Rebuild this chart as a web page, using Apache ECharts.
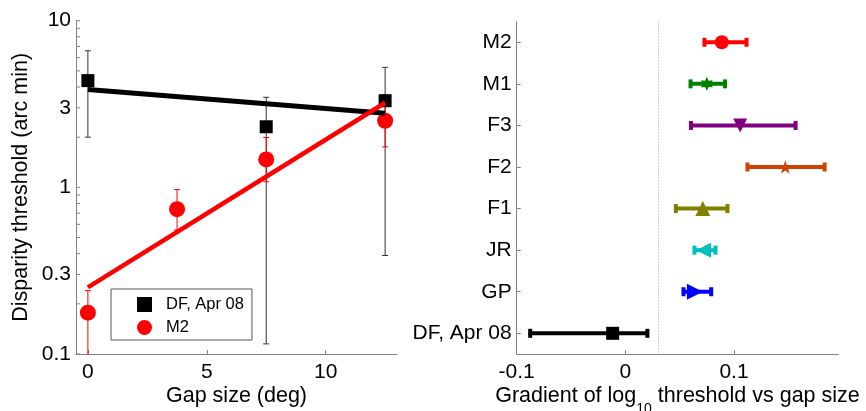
<!DOCTYPE html>
<html>
<head>
<meta charset="utf-8">
<script src="https://cdn.jsdelivr.net/npm/echarts@6/dist/echarts.min.js"></script>
<style>
  html, body { margin: 0; padding: 0; background: #fff; }
  #chart { width: 866px; height: 411px; }
</style>
</head>
<body>
<div id="chart"></div>
<script>
// ---- Left panel: disparity threshold against gap size ----
const dfGap = [0, 7.5, 12.5];
const dfThreshold = [4.37, 2.31, 3.31];
const dfErrLow = [2.0, 0.115, 0.39];
const dfErrHigh = [6.6, 3.47, 5.25];

const m2Gap = [0, 3.75, 7.5, 12.5];
const m2Threshold = [0.177, 0.74, 1.47, 2.51];
const m2ErrLow = [0.09, 0.555, 1.08, 1.75];
const m2ErrHigh = [0.24, 0.97, 1.99, 3.6];

// straight-line fits in log threshold, end points
const fitGap = [0, 12.5];
const dfFit = [3.87, 2.78];
const m2Fit = [0.251, 3.22];

const thresholdLabels = [0.1, 0.3, 1, 3, 10];
const thresholdTicks = [0.1, 0.2, 0.3, 0.4, 0.5, 0.6, 0.7, 0.8, 0.9,
                        1, 2, 3, 4, 5, 6, 7, 8, 9, 10];
const gapLabels = [0, 5, 10];

// ---- Right panel: fitted gradient per observer ----
const subjects = ['M2', 'M1', 'F3', 'F2', 'F1', 'JR', 'GP', 'DF, Apr 08'];
const gradient = [0.0888, 0.075, 0.1057, 0.1472, 0.0713, 0.072, 0.064, -0.0117];
const gradLow  = [0.0728, 0.060, 0.0604, 0.1124, 0.0465, 0.0636, 0.0535, -0.0876];
const gradHigh = [0.1115, 0.0917, 0.1567, 0.1834, 0.094, 0.083, 0.079, 0.0203];
const gradientLabels = [-0.1, 0, 0.1];
const referenceGradient = 0.025;

// marker styling per observer
const subjectColors = ['#ff0000', '#008000', '#800080', '#cc4400', '#808000', '#00bfbf', '#0000ff', '#000000'];
const PENTAGRAM = 'path://M0,-10 L2.245,-3.09 L9.511,-3.09 L3.633,1.18 L5.878,8.09 L0,3.82 L-5.878,8.09 L-3.633,1.18 L-9.511,-3.09 L-2.245,-3.09 Z';
const HEXAGRAM = 'path://M0,-10 L2.5,-4.33 L8.66,-5 L5,0 L8.66,5 L2.5,4.33 L0,10 L-2.5,4.33 L-8.66,5 L-5,0 L-8.66,-5 L-2.5,-4.33 Z';
const subjectSymbols = ['circle', HEXAGRAM, 'triangle', PENTAGRAM, 'triangle', 'triangle', 'triangle', 'rect'];
const subjectRotate = [0, 0, 180, 0, 0, 90, -90, 0];
const subjectSizes = [14, 14, 14, 14, 15, 15, 16, 13];

const FONT = "'Liberation Sans', Arial, Helvetica, sans-serif";
const AXIS_GREY = '#808080';

function vErrorBar(color) {
  return function (params, api) {
    const x = api.value(0);
    const lo = api.coord([x, api.value(1)]);
    const hi = api.coord([x, api.value(2)]);
    const w = 3;
    const style = { stroke: color, lineWidth: 1 };
    return {
      type: 'group',
      children: [
        { type: 'line', shape: { x1: lo[0], y1: lo[1], x2: hi[0], y2: hi[1] }, style },
        { type: 'line', shape: { x1: lo[0] - w, y1: lo[1], x2: lo[0] + w, y2: lo[1] }, style },
        { type: 'line', shape: { x1: hi[0] - w, y1: hi[1], x2: hi[0] + w, y2: hi[1] }, style }
      ]
    };
  };
}

// inward tick marks on the logarithmic threshold axis
function logTick(params, api) {
  const y = api.coord([0, api.value(1)])[1];
  const x0 = params.coordSys.x;
  return {
    type: 'line',
    shape: { x1: x0, y1: y, x2: x0 + 4, y2: y },
    style: { stroke: AXIS_GREY, lineWidth: 1 }
  };
}

function hErrorBar(params, api) {
  const idx = api.value(2);
  const lo = api.coord([api.value(0), idx]);
  const hi = api.coord([api.value(1), idx]);
  const color = subjectColors[idx];
  const capW = 4, capH = 9;
  return {
    type: 'group',
    children: [
      { type: 'line', shape: { x1: lo[0], y1: lo[1], x2: hi[0], y2: hi[1] },
        style: { stroke: color, lineWidth: 4 } },
      { type: 'rect', shape: { x: lo[0] - capW / 2, y: lo[1] - capH / 2, width: capW, height: capH },
        style: { fill: color } },
      { type: 'rect', shape: { x: hi[0] - capW / 2, y: hi[1] - capH / 2, width: capW, height: capH },
        style: { fill: color } }
    ]
  };
}

const axisText = { color: '#000', fontSize: 21, fontFamily: FONT };
const titleText = { color: '#000', fontSize: 21.5, fontFamily: FONT };
const axisLineStyle = { show: true, onZero: false, lineStyle: { color: AXIS_GREY, width: 1 } };

const option = {
  backgroundColor: '#fff',
  animation: false,
  textStyle: { fontFamily: FONT },
  grid: [
    { left: 76, top: 20.7, width: 321, height: 333.3, outerBoundsMode: 'none', containLabel: false },
    { left: 516.7, top: 21.5, width: 321.6, height: 332.6, outerBoundsMode: 'none', containLabel: false }
  ],
  legend: {
    data: [{ name: 'DF, Apr 08', icon: 'rect' }, { name: 'M2', icon: 'circle' }],
    orient: 'vertical',
    left: 111,
    top: 289,
    padding: [7, 8, 4, 26],
    itemGap: 6,
    itemWidth: 15,
    itemHeight: 15,
    borderColor: '#555',
    borderWidth: 1,
    backgroundColor: '#fff',
    textStyle: { fontSize: 16.5, color: '#000', fontFamily: FONT, padding: [0, 0, 0, 9] },
    selectedMode: false
  },
  xAxis: [
    {
      gridIndex: 0, type: 'value', min: -0.5, max: 13,
      name: 'Gap size (deg)', nameLocation: 'middle', nameGap: 31, nameMoveOverlap: false,
      nameTextStyle: titleText,
      axisLine: axisLineStyle,
      axisTick: { show: true, inside: true, length: 4, customValues: gapLabels, lineStyle: { color: AXIS_GREY } },
      axisLabel: Object.assign({ show: true, margin: 8, customValues: gapLabels }, axisText),
      splitLine: { show: false }
    },
    {
      gridIndex: 1, type: 'value', min: -0.1, max: 0.196,
      name: '{a|Gradient of log}{sub|10}{a| threshold vs gap size}',
      nameLocation: 'middle', nameGap: 22, nameMoveOverlap: false,
      nameTextStyle: {
        color: '#000', fontSize: 21.5, fontFamily: FONT,
        rich: {
          a: { fontSize: 21.5, fontFamily: FONT, color: '#000', lineHeight: 40 },
          sub: { fontSize: 14, fontFamily: FONT, color: '#000', lineHeight: 14, verticalAlign: 'bottom' }
        }
      },
      axisLine: axisLineStyle,
      axisTick: { show: true, inside: true, length: 4, customValues: gradientLabels, lineStyle: { color: AXIS_GREY } },
      axisLabel: Object.assign({ show: true, margin: 8, customValues: gradientLabels }, axisText),
      splitLine: { show: false }
    }
  ],
  yAxis: [
    {
      gridIndex: 0, type: 'log', logBase: 10, min: 0.1, max: 10,
      name: 'Disparity threshold (arc min)', nameLocation: 'middle', nameGap: 44, nameMoveOverlap: false,
      nameTextStyle: titleText,
      axisLine: axisLineStyle,
      axisTick: { show: false },
      axisLabel: Object.assign({ show: true, margin: 5, customValues: thresholdLabels, formatter: v => String(v) }, axisText),
      splitLine: { show: false }
    },
    {
      gridIndex: 1, type: 'category', inverse: true, data: subjects,
      axisLine: axisLineStyle,
      axisTick: { show: true, inside: true, length: 4, alignWithLabel: true, lineStyle: { color: AXIS_GREY } },
      axisLabel: Object.assign({ show: true, margin: 5 }, axisText),
      splitLine: { show: false }
    }
  ],
  series: [
    // left panel
    {
      name: 'threshold ticks', type: 'custom', xAxisIndex: 0, yAxisIndex: 0, silent: true, z: 1,
      renderItem: logTick,
      encode: { x: 0, y: 1 },
      data: thresholdTicks.map(v => [0, v])
    },
    {
      name: 'DF error', type: 'custom', xAxisIndex: 0, yAxisIndex: 0, clip: true, z: 2,
      renderItem: vErrorBar('#333'),
      encode: { x: 0, y: [1, 2] },
      data: dfGap.map((g, i) => [g, dfErrLow[i], dfErrHigh[i]])
    },
    {
      name: 'M2 error', type: 'custom', xAxisIndex: 0, yAxisIndex: 0, clip: true, z: 2,
      renderItem: vErrorBar('#ff0000'),
      encode: { x: 0, y: [1, 2] },
      data: m2Gap.map((g, i) => [g, m2ErrLow[i], m2ErrHigh[i]])
    },
    {
      name: 'DF, Apr 08', type: 'scatter', xAxisIndex: 0, yAxisIndex: 0, z: 3,
      symbol: 'rect', symbolSize: 13, itemStyle: { color: '#000', opacity: 1 },
      data: dfGap.map((g, i) => [g, dfThreshold[i]])
    },
    {
      name: 'M2', type: 'scatter', xAxisIndex: 0, yAxisIndex: 0, z: 3,
      symbol: 'circle', symbolSize: 16, itemStyle: { color: '#ff0000', opacity: 1 },
      data: m2Gap.map((g, i) => [g, m2Threshold[i]])
    },
    {
      name: 'DF fit', type: 'line', xAxisIndex: 0, yAxisIndex: 0, z: 4,
      showSymbol: false, symbol: 'none',
      lineStyle: { color: '#000', width: 5 },
      data: fitGap.map((g, i) => [g, dfFit[i]])
    },
    {
      name: 'M2 fit', type: 'line', xAxisIndex: 0, yAxisIndex: 0, z: 5,
      showSymbol: false, symbol: 'none',
      lineStyle: { color: '#ff0000', width: 4.5 },
      data: fitGap.map((g, i) => [g, m2Fit[i]])
    },
    // right panel
    {
      name: 'gradient range', type: 'custom', xAxisIndex: 1, yAxisIndex: 1, z: 2,
      renderItem: hErrorBar,
      encode: { x: [0, 1], y: 2 },
      data: subjects.map((s, i) => [gradLow[i], gradHigh[i], i])
    },
    {
      name: 'gradient', type: 'scatter', xAxisIndex: 1, yAxisIndex: 1, z: 3,
      symbolKeepAspect: true,
      data: subjects.map((s, i) => ({
        value: [gradient[i], i],
        symbol: subjectSymbols[i],
        symbolSize: subjectSizes[i],
        symbolRotate: subjectRotate[i],
        symbolKeepAspect: true,
        itemStyle: { color: subjectColors[i], opacity: 1 }
      })),
      markLine: {
        silent: true, symbol: 'none', animation: false,
        label: { show: false },
        lineStyle: { type: [1, 2], color: '#999', width: 1 },
        data: [{ xAxis: referenceGradient }]
      }
    }
  ]
};

const chart = echarts.init(document.getElementById('chart'), null, { renderer: 'canvas' });
chart.setOption(option);
</script>
</body>
</html>
